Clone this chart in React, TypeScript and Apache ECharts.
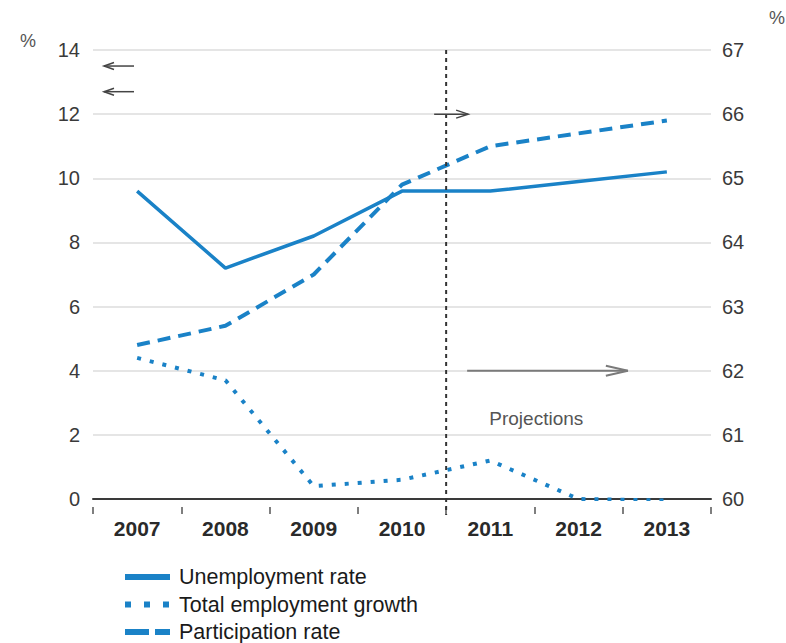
import React, { useEffect, useRef } from 'react';
import * as echarts from 'echarts';

const years = ['2007', '2008', '2009', '2010', '2011', '2012', '2013'];
const unemploymentRate = [9.6, 7.2, 8.2, 9.6, 9.6, 9.9, 10.2];
const employmentGrowth = [4.4, 3.7, 0.4, 0.6, 1.2, 0.0, -0.05];
const participationRate = [62.4, 62.7, 63.5, 64.9, 65.5, 65.7, 65.9];
const leftAxisRange = [0, 14, 2];
const rightAxisRange = [60, 67, 1];
const seriesNames = ['Unemployment rate', 'Total employment growth', 'Participation rate'];
const projectionLabel = 'Projections';

const BLUE = '#1a82c7';
const FONT = '"Liberation Sans", Arial, sans-serif';

export default function App() {
  const ref = useRef<HTMLDivElement>(null);
  useEffect(() => {
    document.body.style.margin = '0';
    const chart = echarts.init(ref.current!, null, { renderer: 'svg' });
    const hidden = { opacity: 0 };
    const option: any = {
      animation: false,
      backgroundColor: '#ffffff',
      textStyle: { fontFamily: FONT },
      grid: { left: 93, right: 75, top: 50, bottom: 144 },
      legend: {
        orient: 'vertical',
        left: 122,
        top: 566,
        padding: 0,
        itemWidth: 45,
        itemHeight: 8,
        itemGap: 5.5,
        itemStyle: hidden,
        textStyle: { fontSize: 21.5, color: '#1a1a1a', fontFamily: FONT, padding: [0, 0, 0, 4] },
        data: [
          { name: seriesNames[0], itemStyle: hidden, lineStyle: { width: 6, type: 'solid' } },
          { name: seriesNames[1], itemStyle: hidden, lineStyle: { width: 6, type: [6, 13] } },
          { name: seriesNames[2], itemStyle: hidden, lineStyle: { width: 6, type: [24, 6] } },
        ],
      },
      xAxis: [
        {
          type: 'category',
          data: years,
          boundaryGap: true,
          axisLine: { lineStyle: { color: '#3a3a3a', width: 2 } },
          axisTick: { show: false },
          axisLabel: { fontSize: 21, fontWeight: 'bold', color: '#2a2a2a', margin: 19 },
        },
        {
          type: 'category',
          data: years,
          boundaryGap: true,
          position: 'bottom',
          offset: 8,
          axisLine: { show: false },
          axisTick: { show: true, length: 7, lineStyle: { color: '#555', width: 1.5 } },
          axisLabel: { show: false },
        },
      ],
      yAxis: [
        {
          type: 'value',
          min: leftAxisRange[0],
          max: leftAxisRange[1],
          interval: leftAxisRange[2],
          position: 'left',
          axisLine: { show: false },
          axisTick: { show: false },
          axisLabel: { fontSize: 20, color: '#3a3a3a', margin: 13 },
          splitLine: { lineStyle: { color: '#dcdcdc', width: 1.5 } },
        },
        {
          type: 'value',
          min: rightAxisRange[0],
          max: rightAxisRange[1],
          interval: rightAxisRange[2],
          position: 'right',
          axisLine: { show: false },
          axisTick: { show: false },
          axisLabel: { fontSize: 20, color: '#3a3a3a', margin: 11 },
          splitLine: { show: false },
        },
      ],
      series: [
        {
          name: seriesNames[0],
          type: 'line',
          data: unemploymentRate,
          yAxisIndex: 0,
          symbol: 'none',
          color: BLUE,
          lineStyle: { color: BLUE, width: 3.5 },
        },
        {
          name: seriesNames[1],
          type: 'line',
          data: employmentGrowth,
          yAxisIndex: 0,
          symbol: 'none',
          color: BLUE,
          lineStyle: { color: BLUE, width: 4, type: [4, 9] },
        },
        {
          name: seriesNames[2],
          type: 'line',
          data: participationRate,
          yAxisIndex: 1,
          symbol: 'none',
          color: BLUE,
          lineStyle: { color: BLUE, width: 4, type: [13, 8] },
        },
      ],
    };
    chart.setOption(option);

    const xc = (i: number) => chart.convertToPixel({ xAxisIndex: 0 }, years[i]) as number;
    const yl = (v: number) => chart.convertToPixel({ yAxisIndex: 0 }, v) as number;
    const yr = (v: number) => chart.convertToPixel({ yAxisIndex: 1 }, v) as number;
    const divX = (xc(3) + xc(4)) / 2;
    const step = xc(1) - xc(0);
    const gridLeft = xc(0) - step / 2;
    const gridRight = xc(6) + step / 2;
    const top = yl(leftAxisRange[1]);
    const bottom = yl(0);

    const arrow = (x0: number, x1: number, y: number, dir: 1 | -1, head: number, half: number, color: string, w: number) => {
      const tip = dir === 1 ? x1 : x0;
      return [
        { type: 'line', shape: { x1: x0, y1: y, x2: x1, y2: y }, style: { stroke: color, lineWidth: w }, z: 10 },
        {
          type: 'polyline',
          shape: { points: [[tip - dir * head, y - half], [tip, y], [tip - dir * head, y + half]] },
          style: { stroke: color, lineWidth: w, fill: null },
          z: 10,
        },
      ];
    };

    const graphic: any[] = [
      {
        type: 'line',
        shape: { x1: divX, y1: top, x2: divX, y2: bottom + 16 },
        style: { stroke: '#333', lineWidth: 2, lineDash: [4, 4] },
        z: 9,
      },
      ...arrow(gridLeft + 11, gridLeft + 41, yl(13.5), -1, 10, 3.5, '#444', 1.5),
      ...arrow(gridLeft + 11, gridLeft + 41, yl(12.7), -1, 10, 3.5, '#444', 1.5),
      ...arrow(divX - 12, divX + 22, yr(66), 1, 12, 4, '#444', 1.5),
      ...arrow(divX + 21, xc(6) - 39, yr(62), 1, 22, 5, '#7a7a7a', 2),
      {
        type: 'text',
        x: xc(4) - 1,
        y: yr(61.25),
        style: { text: projectionLabel, font: `19px ${FONT}`, fill: '#555', textVerticalAlign: 'middle' },
        z: 10,
      },
      {
        type: 'text',
        x: 28,
        y: top - 9,
        style: { text: '%', font: `18px ${FONT}`, fill: '#555', textAlign: 'center', textVerticalAlign: 'middle' },
      },
      {
        type: 'text',
        x: gridRight + 66,
        y: top - 32,
        style: { text: '%', font: `18px ${FONT}`, fill: '#555', textAlign: 'center', textVerticalAlign: 'middle' },
      },
    ];
    chart.setOption({ graphic });

    return () => chart.dispose();
  }, []);
  return <div ref={ref} style={{ width: 786, height: 643 }} />;
}
